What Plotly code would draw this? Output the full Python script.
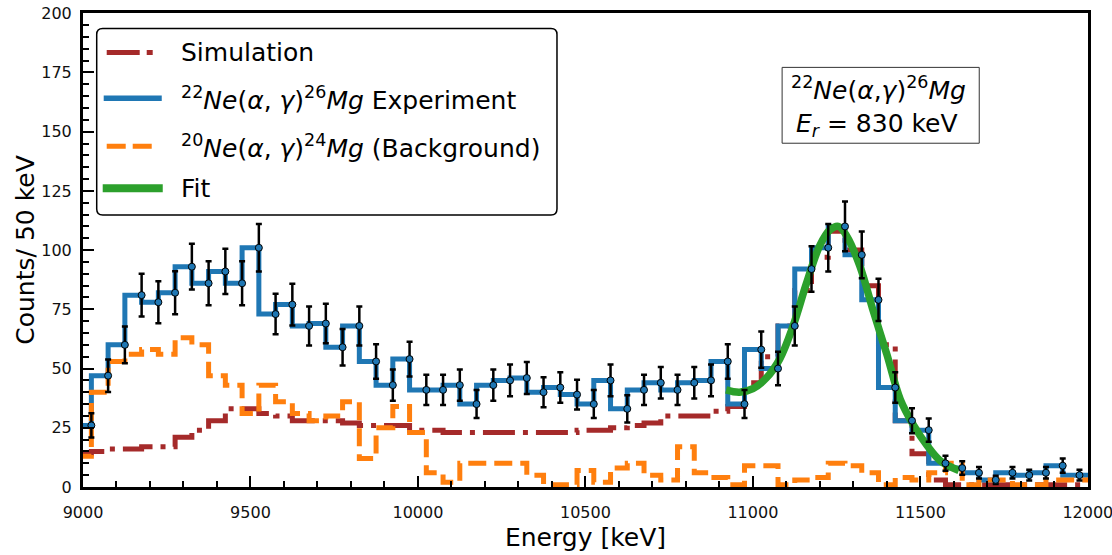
import numpy as np
import plotly.graph_objects as go

# 50 keV bin centres
energy = list(np.arange(9025, 12000, 50))

# 22Ne(a,g)26Mg experimental counts per bin
counts_exp = [26, 47, 60, 81, 78, 82, 93, 86, 91, 86,
              101, 73, 77, 68, 69, 59, 68, 53, 43, 54,
              41, 41, 43, 35, 43, 45, 46, 40, 42, 39,
              35, 45, 33, 41, 44, 41, 44, 45, 53, 35,
              58, 50, 68, 92, 101, 110, 98, 79, 42, 28,
              24, 10, 8, 6, 3, 6, 5, 6, 9, 5]

# simulated spectrum
counts_sim = [14, 15, 16, 16, 17, 17, 21, 24, 28, 33,
              33, 31, 30, 28, 28, 28, 27, 26, 26, 26,
              24, 24, 23, 23, 23, 23, 23, 23, 23, 23,
              24, 24, 25, 26, 27, 30, 30, 30, 32, 34,
              44, 55, 68, 83, 97, 108, 100, 85, 60, 28,
              14, 3, 1, 1, 1, 1, 1, 1, 1, 1]

# 20Ne(a,g)24Mg background run
counts_bg = [13, 40, 53, 56, 58, 56, 63, 60, 47, 43,
             31, 43, 36, 31, 28, 30, 36, 12, 25, 34,
             23, 6, 2, 10, 10, 10, 10, 5, 1, 1,
             7, 2, 8, 10, 5, 3, 17, 6, 4, 1,
             9, 9, 1, 3, 4, 10, 9, 6, 1, 4,
             3, 6, 10, 1, 3, 3, 1, 1, 3, 3]

# fitted resonance curve
fit_energy = [10920, 10960, 11000, 11040, 11080, 11120, 11160, 11200, 11230, 11255,
              11280, 11320, 11360, 11400, 11440, 11480, 11520, 11560, 11615]
fit_counts = [41, 40, 41.5, 46, 54, 68, 86, 102, 108.5, 110,
              106, 93, 74, 56, 37, 26, 17.5, 11, 7]

x_ticks = [9000, 9500, 10000, 10500, 11000, 11500, 12000]
y_ticks = [0, 25, 50, 75, 100, 125, 150, 175, 200]

BLUE, ORANGE, GREEN, BROWN = "#1f77b4", "#ff7f0e", "#2ca02c", "#a52a2a"
FONT = "DejaVu Sans"

W, H = 1112, 555
PL, PR, PT, PB = 83.3, 1087.7, 12.5, 487.5


def px2x(px):
    return (px - PL) / (PR - PL)


def px2y(py):
    return (PB - py) / (PB - PT)


def stepped(vals):
    # histogram drawn as pre-steps; pad one bin on each side so the
    # outer levels reach the frame
    xs = [energy[0] - 50] + energy + [energy[-1] + 50]
    ys = [vals[0]] + list(vals) + [vals[-1]]
    return xs, ys


fig = go.Figure()

xs, ys = stepped(counts_sim)
fig.add_trace(go.Scatter(x=xs, y=ys, mode="lines", line_shape="vh",
                         line=dict(color=BROWN, width=5, dash="32px,8px,5px,8px"),
                         name="Simulation"))

xs, ys = stepped(counts_exp)
fig.add_trace(go.Scatter(x=xs, y=ys, mode="lines", line_shape="vh",
                         line=dict(color=BLUE, width=5), name="Experiment"))

xs, ys = stepped(counts_bg)
fig.add_trace(go.Scatter(x=xs, y=ys, mode="lines", line_shape="vh",
                         line=dict(color=ORANGE, width=5, dash="18px,8px"),
                         name="Background"))

fig.add_trace(go.Scatter(x=fit_energy, y=fit_counts, mode="lines",
                         line=dict(color=GREEN, width=7.5, shape="spline", smoothing=1.0),
                         name="Fit"))

errs = np.sqrt(np.array(counts_exp, dtype=float))
fig.add_trace(go.Scatter(x=energy, y=counts_exp, mode="markers",
                         marker=dict(size=7, color=BLUE, line=dict(color="black", width=1)),
                         error_y=dict(type="data", array=errs, color="black",
                                      thickness=2.5, width=3),
                         name="data"))

axis_common = dict(
    showline=True, linewidth=3, linecolor="black", mirror=True,
    showgrid=False, zeroline=False,
    ticks="inside", ticklen=11, tickwidth=2, tickcolor="black",
    tickfont=dict(family=FONT, size=16, color="#111"),
    ticklabeloverflow="allow",
)

fig.update_xaxes(range=[9000, 12000.5], tickvals=x_ticks,
                 ticktext=[str(v) for v in x_ticks],
                 minor=dict(ticks="inside", ticklen=6, tickwidth=1.5,
                            tickcolor="black", dtick=100, tick0=9000, showgrid=False),
                 title=dict(text="Energy [keV]", font=dict(family=FONT, size=25, color="black"),
                            standoff=8),
                 ticklabelstandoff=9,
                 **axis_common)
fig.update_yaxes(range=[0, 200.1], tickvals=y_ticks,
                 ticktext=[str(v) for v in y_ticks],
                 minor=dict(ticks="inside", ticklen=6, tickwidth=1.5,
                            tickcolor="black", dtick=5, tick0=0, showgrid=False),
                 title=dict(text="Counts/ 50 keV", font=dict(family=FONT, size=25, color="black"),
                            standoff=0),
                 ticklabelstandoff=5,
                 **axis_common)

shapes = []
annotations = []

# legend frame with rounded corners
bx0, bx1, by0, by1, r = 97, 557, 28, 215, 6
path = (
    f"M {px2x(bx0 + r)},{px2y(by0)} L {px2x(bx1 - r)},{px2y(by0)} "
    f"Q {px2x(bx1)},{px2y(by0)} {px2x(bx1)},{px2y(by0 + r)} "
    f"L {px2x(bx1)},{px2y(by1 - r)} "
    f"Q {px2x(bx1)},{px2y(by1)} {px2x(bx1 - r)},{px2y(by1)} "
    f"L {px2x(bx0 + r)},{px2y(by1)} "
    f"Q {px2x(bx0)},{px2y(by1)} {px2x(bx0)},{px2y(by1 - r)} "
    f"L {px2x(bx0)},{px2y(by0 + r)} "
    f"Q {px2x(bx0)},{px2y(by0)} {px2x(bx0 + r)},{px2y(by0)} Z"
)
shapes.append(dict(type="path", path=path, xref="paper", yref="paper",
                   line=dict(color="black", width=1.5), fillcolor="rgba(255,255,255,0.85)",
                   layer="above"))

legend_rows = [
    (52, 107, 153, dict(color=BROWN, width=5, dash="33px,7px,6px,7px"), "Simulation"),
    (98, 104, 162, dict(color=BLUE, width=5.5), "<sup>22</sup><i>Ne</i>(<i>α</i>, <i>γ</i>)<sup>26</sup><i>Mg</i> Experiment"),
    (146, 107, 153, dict(color=ORANGE, width=5, dash="19px,7px"), "<sup>20</sup><i>Ne</i>(<i>α</i>, <i>γ</i>)<sup>24</sup><i>Mg</i> (Background)"),
    (188, 103, 163, dict(color=GREEN, width=8), "Fit"),
]
for yc, lx0, lx1, ln, label in legend_rows:
    shapes.append(dict(type="line", xref="paper", yref="paper",
                       x0=px2x(lx0), x1=px2x(lx1), y0=px2y(yc), y1=px2y(yc),
                       line=ln, layer="above"))
    annotations.append(dict(text=label, xref="paper", yref="paper",
                            x=px2x(179), y=px2y(yc), xanchor="left", yanchor="middle",
                            showarrow=False, font=dict(family=FONT, size=25, color="black")))

# resonance label box
shapes.append(dict(type="rect", xref="paper", yref="paper",
                   x0=px2x(782), x1=px2x(979), y0=px2y(67), y1=px2y(143),
                   line=dict(color="#333", width=1), fillcolor="white", layer="above"))
annotations.append(dict(text="<sup>22</sup><i>Ne</i>(<i>α</i>,<i>γ</i>)<sup>26</sup><i>Mg</i>",
                        xref="paper", yref="paper", x=px2x(878), y=px2y(88),
                        xanchor="center", yanchor="middle", showarrow=False,
                        font=dict(family=FONT, size=25, color="black")))
annotations.append(dict(text="<i>E<sub>r</sub></i> = 830 keV",
                        xref="paper", yref="paper", x=px2x(877), y=px2y(125),
                        xanchor="center", yanchor="middle", showarrow=False,
                        font=dict(family=FONT, size=25, color="black")))

fig.update_layout(
    width=W, height=H,
    margin=dict(l=PL, r=W - PR, t=PT, b=H - PB, autoexpand=False),
    plot_bgcolor="white", paper_bgcolor="white",
    showlegend=False,
    font=dict(family=FONT, color="black"),
    shapes=shapes, annotations=annotations,
)

fig.write_html("out.html")
